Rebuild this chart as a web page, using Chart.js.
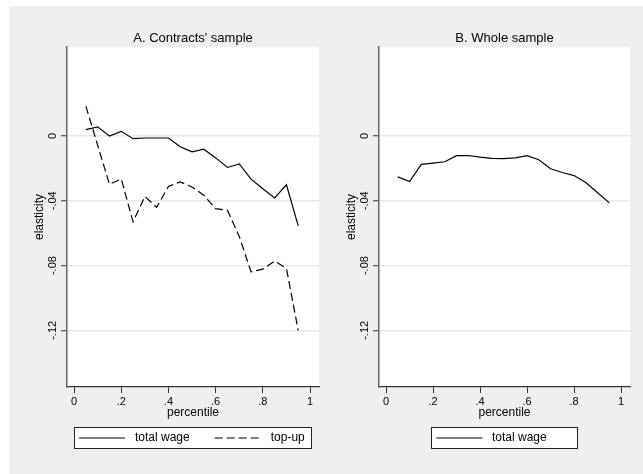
<!DOCTYPE html>
<html><head><meta charset="utf-8">
<script src="https://cdn.jsdelivr.net/npm/chart.js@4"></script>
<style>
html,body{margin:0;padding:0;background:#fff;width:643px;height:474px;overflow:hidden}
#bg{position:absolute;left:9px;top:6px;width:634px;height:468px;background:#efefef}
canvas{position:absolute;top:6px}
#cA{left:9px;width:368px;height:468px}
#cB{left:321px;width:367px;height:468px}
</style></head><body>
<div id="bg"></div>
<canvas id="cA" width="368" height="468"></canvas>
<canvas id="cB" width="367" height="468"></canvas>
<script>
const percentile = [0.05,0.10,0.15,0.20,0.25,0.30,0.35,0.40,0.45,0.50,0.55,0.60,0.65,0.70,0.75,0.80,0.85,0.90,0.95];
const contractsTotalWage = [0.0040,0.0057,0.0000,0.0029,-0.0016,-0.0012,-0.0012,-0.0012,-0.0066,-0.0098,-0.0081,-0.0135,-0.0194,-0.0172,-0.0266,-0.0325,-0.0382,-0.0301,-0.0555];
const contractsTopUp = [0.0184,-0.0057,-0.0298,-0.0265,-0.0530,-0.0373,-0.0440,-0.0311,-0.0283,-0.0315,-0.0366,-0.0448,-0.0458,-0.0620,-0.0839,-0.0822,-0.0772,-0.0818,-0.1201];
const wholeTotalWage = [-0.0252,-0.0281,-0.0175,-0.0167,-0.0159,-0.0121,-0.0120,-0.0130,-0.0138,-0.0139,-0.0135,-0.0121,-0.0146,-0.0202,-0.0225,-0.0244,-0.0287,-0.0350,-0.0413];
const yTickValues = [0,-0.04,-0.08,-0.12];
const yTickLabels = ['0','-.04','-.08','-.12'];
const xTickValues = [0,0.2,0.4,0.6,0.8,1];
const xTickLabels = ['0','.2','.4','.6','.8','1'];
const panelTitles = ["A. Contracts' sample","B. Whole sample"];
const seriesNames = ['total wage','top-up'];
const xAxisTitle = 'percentile';
const yAxisTitle = 'elasticity';

const F = '"Liberation Sans", Arial, Helvetica, sans-serif';

const plotBg = {
  id:'plotBg',
  beforeDraw(chart){
    const {ctx, chartArea:a} = chart;
    ctx.save(); ctx.fillStyle='#fff';
    ctx.fillRect(a.left,a.top,a.right-a.left,a.bottom-a.top);
    ctx.restore();
  }
};

const boxLegend = {
  id:'boxLegend',
  afterDraw(chart, args, o){
    const ctx = chart.ctx, a = chart.chartArea;
    const cx = (a.left + a.right)/2;
    const x0 = Math.round(cx - o.width/2), y0 = o.top;
    ctx.save();
    ctx.fillStyle = '#fff';
    ctx.fillRect(x0, y0, o.width, o.height);
    ctx.strokeStyle = '#222'; ctx.lineWidth = 1;
    ctx.strokeRect(x0+0.5, y0+0.5, o.width-1, o.height-1);
    ctx.font = '12px ' + F;
    ctx.textBaseline = 'middle'; ctx.textAlign = 'left';
    let x = x0 + o.pad;
    const yc = y0 + o.height/2;
    chart.data.datasets.forEach(ds => {
      ctx.strokeStyle = ds.borderColor; ctx.lineWidth = ds.borderWidth;
      ctx.setLineDash(ds.borderDash || []);
      ctx.beginPath(); ctx.moveTo(x, yc); ctx.lineTo(x + o.sample, yc); ctx.stroke();
      ctx.setLineDash([]);
      x += o.sample + o.gap;
      ctx.fillStyle = '#000';
      ctx.fillText(ds.label, x, yc);
      x += ctx.measureText(ds.label).width + o.itemGap;
    });
    ctx.restore();
  }
};

function pts(ys){ return percentile.map((p,i)=>({x:p, y:ys[i]})); }

function makeChart(id, title, datasets, legendOpts){
  return new Chart(document.getElementById(id), {
    type:'line',
    data:{datasets},
    plugins:[plotBg, boxLegend],
    options:{
      responsive:false, animation:false,
      layout:{padding:{left:0, top:0, right:0, bottom:54}},
      elements:{point:{radius:0}, line:{tension:0}},
      plugins:{
        legend:{display:false}, tooltip:{enabled:false},
        title:{display:true, text:title, color:'#000', font:{family:F, size:13, weight:'normal'}, padding:{top:24.4, bottom:1}},
        boxLegend:legendOpts
      },
      scales:{
        x:{
          type:'linear', min:-0.03, max:1.038,
          afterBuildTicks:s=>{ s.ticks = xTickValues.map(v=>({value:v})); },
          afterFit:s=>{ s.height = 33; },
          ticks:{callback:(v,i)=>xTickLabels[i], color:'#000', font:{family:F, size:11}, padding:2, maxRotation:0, minRotation:0, autoSkip:false},
          grid:{drawOnChartArea:false, drawTicks:true, tickLength:6, tickColor:'#333', tickWidth:1},
          border:{display:true, color:'#333', width:1.3},
          title:{display:true, text:xAxisTitle, color:'#000', font:{family:F, size:12}, padding:{top:0, bottom:0}}
        },
        y:{
          type:'linear', position:'left', min:-0.155, max:0.055,
          afterBuildTicks:s=>{ s.ticks = yTickValues.map(v=>({value:v})); },
          afterFit:s=>{ s.width = 58; },
          ticks:{callback:(v,i)=>yTickLabels[i], color:'#000', font:{family:F, size:11}, padding:-1, minRotation:90, maxRotation:90, crossAlign:'center', autoSkip:false},
          grid:{color:'#e8e8e8', lineWidth:1.5, drawTicks:true, tickLength:6, tickColor:'#333', tickWidth:1},
          border:{display:true, color:'#666', width:1.5},
          title:{display:true, text:yAxisTitle, color:'#000', font:{family:F, size:12}, padding:{top:23.8, bottom:0}}
        },
        ySpacer:{
          type:'linear', position:'right', min:0, max:1,
          afterFit:s=>{ s.width = 58; },
          ticks:{display:false}, grid:{display:false, drawTicks:false}, border:{display:false}, title:{display:false}
        }
      }
    }
  });
}

makeChart('cA', panelTitles[0], [
  {label:seriesNames[0], data:pts(contractsTotalWage), borderColor:'#000', borderWidth:1.2, fill:false},
  {label:seriesNames[1], data:pts(contractsTopUp), borderColor:'#000', borderWidth:1.2, borderDash:[8,4], fill:false}
], {top:421, height:22, width:238, pad:5, sample:46, gap:10, itemGap:25});

makeChart('cB', panelTitles[1], [
  {label:seriesNames[0], data:pts(wholeTotalWage), borderColor:'#000', borderWidth:1.2, fill:false}
], {top:421, height:22, width:147, pad:5.5, sample:46, gap:9.5, itemGap:25});
</script>
</body></html>
